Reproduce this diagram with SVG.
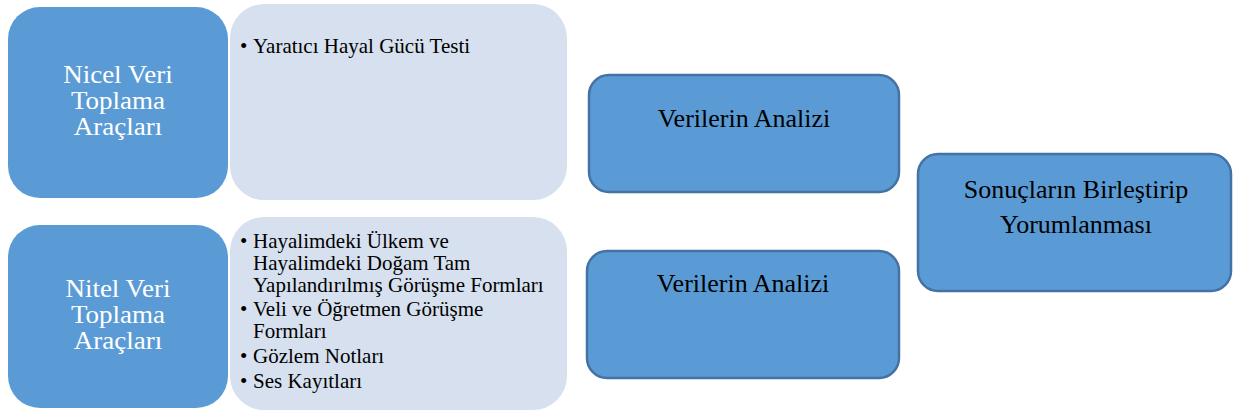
<svg xmlns="http://www.w3.org/2000/svg" width="1233" height="412" viewBox="0 0 1233 412">
  <style>
    .lead { fill: #5B9BD5; }
    .panel { fill: #D6E0EF; }
    .step { fill: #5B9BD5; stroke: #4472A4; stroke-width: 2.5; }
    text { font-family: "Liberation Serif", "Times New Roman", Times, serif; }
    .lead-label { fill: #FFFFFF; font-size: 25px; text-anchor: middle; }
    .step-label { fill: #000000; font-size: 26px; text-anchor: middle; }
    .item { fill: #000000; font-size: 21px; }
  </style>
  <rect width="1233" height="412" fill="#FFFFFF"/>

  <!-- quantitative tools -->
  <g id="nicel-panel">
    <rect class="panel" x="230" y="4" width="337" height="196" rx="34"/>
    <text class="item" x="240" y="53">•</text>
    <text class="item" x="253" y="53">Yaratıcı Hayal Gücü Testi</text>
  </g>
  <g id="nicel">
    <rect class="lead" x="8" y="7" width="220" height="191" rx="32"/>
    <!-- labels are set slightly wide, as in the printed figure -->
    <g transform="translate(118 0) scale(1.08 1)">
      <text class="lead-label" x="0" y="83">Nicel Veri</text>
      <text class="lead-label" x="0" y="109">Toplama</text>
      <text class="lead-label" x="0" y="135">Araçları</text>
    </g>
  </g>

  <!-- qualitative tools -->
  <g id="nitel-panel">
    <rect class="panel" x="230" y="217" width="337" height="193" rx="34"/>
    <text class="item" x="240" y="248">•</text>
    <text class="item" x="253" y="248">Hayalimdeki Ülkem ve</text>
    <text class="item" x="253" y="270">Hayalimdeki Doğam Tam</text>
    <text class="item" x="253" y="292">Yapılandırılmış Görüşme Formları</text>
    <text class="item" x="240" y="316">•</text>
    <text class="item" x="253" y="316">Veli ve Öğretmen Görüşme</text>
    <text class="item" x="253" y="338">Formları</text>
    <text class="item" x="240" y="363">•</text>
    <text class="item" x="253" y="363">Gözlem Notları</text>
    <text class="item" x="240" y="388">•</text>
    <text class="item" x="253" y="388">Ses Kayıtları</text>
  </g>
  <g id="nitel">
    <rect class="lead" x="8" y="225" width="220" height="183" rx="32"/>
    <g transform="translate(118 0) scale(1.08 1)">
      <text class="lead-label" x="0" y="297">Nitel Veri</text>
      <text class="lead-label" x="0" y="323">Toplama</text>
      <text class="lead-label" x="0" y="349">Araçları</text>
    </g>
  </g>

  <!-- analysis steps -->
  <g id="analiz-1">
    <rect class="step" x="589" y="75" width="310" height="117" rx="20"/>
    <text class="step-label" x="744" y="127">Verilerin Analizi</text>
  </g>
  <g id="analiz-2">
    <rect class="step" x="587" y="251" width="312" height="127" rx="20"/>
    <text class="step-label" x="743" y="292">Verilerin Analizi</text>
  </g>

  <!-- synthesis -->
  <g id="sonuc">
    <rect class="step" x="918" y="154" width="313" height="137" rx="20"/>
    <text class="step-label" x="1076" y="198">Sonuçların Birleştirip</text>
    <text class="step-label" x="1076" y="233">Yorumlanması</text>
  </g>

  <g id="connectors"></g>
</svg>
